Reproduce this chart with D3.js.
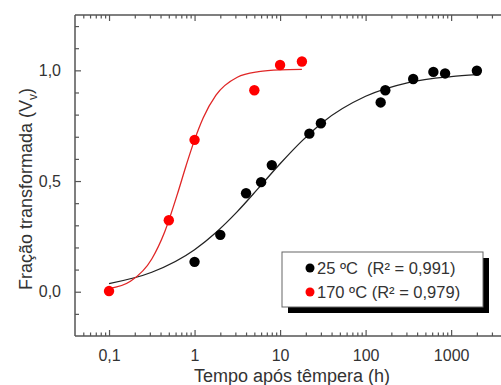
<!DOCTYPE html>
<html>
<head>
<meta charset="utf-8">
<script src="https://cdn.jsdelivr.net/npm/d3@7"></script>
<style>
	body { margin: 0; background: #fff; }
	text { font-family: "Liberation Sans", Arial, sans-serif; fill: #333; }
</style>
</head>
<body>
<svg></svg>
<script>
const SVG_WIDTH = 501;
const SVG_HEIGHT = 385;
const LEFT = 75;
const TOP = 15;
const BOTTOM = 336;
const RIGHT = 511;

// 25 ºC measured points
const time25 = [1, 2, 4, 6, 8, 22, 30, 150, 170, 360, 620, 850, 2000];
const frac25 = [0.135, 0.257, 0.445, 0.495, 0.572, 0.714, 0.761, 0.855, 0.91, 0.961, 0.993, 0.986, 0.998];
// 170 ºC measured points
const time170 = [0.1, 0.5, 1, 5, 10, 18];
const frac170 = [0.003, 0.323, 0.686, 0.91, 1.024, 1.04];

// fitted curves
const fitTime25 = [0.1, 0.316, 1, 1.78, 3.16, 5.62, 10, 17.8, 31.6, 100, 316, 1000, 2000];
const fitFrac25 = [0.037, 0.088, 0.19, 0.268, 0.362, 0.469, 0.578, 0.679, 0.766, 0.883, 0.945, 0.972, 0.981];
const fitTime170 = [0.1, 0.178, 0.316, 0.447, 0.631, 0.794, 1, 1.26, 1.78, 3.16, 5.62, 10, 18];
const fitFrac170 = [0.014, 0.047, 0.148, 0.27, 0.442, 0.568, 0.686, 0.785, 0.888, 0.969, 0.994, 1.002, 1.004];

const xTicks = [0.1, 1, 10, 100, 1000];
const xTickLabels = ["0,1", "1", "10", "100", "1000"];
const yTicks = [0, 0.5, 1];
const yTickLabels = ["0,0", "0,5", "1,0"];

const legendLabels = ["25 ºC  (R² = 0,991)", "170 ºC (R² = 0,979)"];
const legendColors = ["#000", "#f00"];

const svg = d3.select("svg")
	.attr("width", SVG_WIDTH)
	.attr("height", SVG_HEIGHT);

const xScale = d3.scaleLog().domain([0.04, 5012]).range([LEFT, RIGHT]);
const yScale = d3.scaleLinear().domain([-0.2, 1.25]).range([BOTTOM, TOP]);

// minor ticks for the log axis: 2..9 in each decade
let minorX = [];
for (let e = -2; e <= 3; e++) {
	for (let m = 2; m <= 9; m++) {
		let v = m * Math.pow(10, e);
		if (v > 0.04 && v < 5012 && xTicks.indexOf(v) < 0) minorX.push(v);
	}
}
let minorY = d3.range(-0.1, 1.25, 0.1).filter(function(v) {
	return Math.abs(v * 2 - Math.round(v * 2)) > 0.01;
});

const AXIS_COLOR = "#555";

// Frame lines
svg.append("line").attr("x1", LEFT).attr("y1", TOP).attr("x2", LEFT).attr("y2", BOTTOM)
	.attr("stroke", AXIS_COLOR).attr("stroke-width", 1.5);
svg.append("line").attr("x1", LEFT).attr("y1", BOTTOM).attr("x2", RIGHT).attr("y2", BOTTOM)
	.attr("stroke", AXIS_COLOR).attr("stroke-width", 1.5);
svg.append("line").attr("x1", LEFT).attr("y1", TOP).attr("x2", RIGHT).attr("y2", TOP)
	.attr("stroke", AXIS_COLOR).attr("stroke-width", 1.5);

// Draw axes (ticks pointing inwards)
const bottomAxis = d3.axisBottom(xScale).tickValues(xTicks)
	.tickFormat(function(d, i) { return xTickLabels[i]; })
	.tickSizeInner(-6).tickSizeOuter(0).tickPadding(14);
svg.append("g").attr("transform", "translate(0," + BOTTOM + ")").call(bottomAxis);
svg.append("g").attr("transform", "translate(0," + BOTTOM + ")")
	.call(d3.axisBottom(xScale).tickValues(minorX).tickFormat("").tickSizeInner(-3.5).tickSizeOuter(0));

svg.append("g").attr("transform", "translate(0," + TOP + ")")
	.call(d3.axisTop(xScale).tickValues(xTicks).tickFormat("").tickSizeInner(-6).tickSizeOuter(0));
svg.append("g").attr("transform", "translate(0," + TOP + ")")
	.call(d3.axisTop(xScale).tickValues(minorX).tickFormat("").tickSizeInner(-3.5).tickSizeOuter(0));

const leftAxis = d3.axisLeft(yScale).tickValues(yTicks)
	.tickFormat(function(d, i) { return yTickLabels[i]; })
	.tickSizeInner(-6).tickSizeOuter(0).tickPadding(14);
svg.append("g").attr("transform", "translate(" + LEFT + ",0)").call(leftAxis);
svg.append("g").attr("transform", "translate(" + LEFT + ",0)")
	.call(d3.axisLeft(yScale).tickValues(minorY).tickFormat("").tickSizeInner(-4).tickSizeOuter(0));

svg.selectAll(".domain").remove();
svg.selectAll(".tick line").attr("stroke", AXIS_COLOR).attr("stroke-width", 1.2);
svg.selectAll(".tick text").style("font-size", "16px").attr("fill", "#333");

// Axis titles
svg.append("text")
	.attr("x", 292).attr("y", 382)
	.attr("text-anchor", "middle")
	.style("font-size", "18px")
	.text("Tempo após têmpera (h)");

const yTitle = svg.append("text")
	.attr("transform", "translate(32,189) rotate(-90)")
	.attr("text-anchor", "middle")
	.style("font-size", "18px");
yTitle.append("tspan").text("Fração transformada (V");
yTitle.append("tspan").attr("dy", 5).style("font-size", "12px").text("v");
yTitle.append("tspan").attr("dy", -5).text(")");

// Fit curves
const line = d3.line()
	.x(function(d) { return xScale(d[0]); })
	.y(function(d) { return yScale(d[1]); })
	.curve(d3.curveMonotoneX);

svg.append("path")
	.datum(d3.zip(fitTime25, fitFrac25))
	.attr("d", line)
	.attr("fill", "none").attr("stroke", "#222").attr("stroke-width", 1.3);
svg.append("path")
	.datum(d3.zip(fitTime170, fitFrac170))
	.attr("d", line)
	.attr("fill", "none").attr("stroke", "#e02626").attr("stroke-width", 1.3);

// Data points
svg.selectAll("circle.p25")
	.data(d3.zip(time25, frac25))
	.enter()
	.append("circle")
	.attr("class", "p25")
	.attr("cx", function(d) { return xScale(d[0]); })
	.attr("cy", function(d) { return yScale(d[1]); })
	.attr("r", 5.2)
	.style("fill", "#000");
svg.selectAll("circle.p170")
	.data(d3.zip(time170, frac170))
	.enter()
	.append("circle")
	.attr("class", "p170")
	.attr("cx", function(d) { return xScale(d[0]); })
	.attr("cy", function(d) { return yScale(d[1]); })
	.attr("r", 5.2)
	.style("fill", "#f00");

// Legend with drop shadow
const legend = svg.append("g").attr("transform", "translate(282,252)");
legend.append("rect").attr("x", 6).attr("y", 6).attr("width", 201).attr("height", 55).attr("fill", "#000");
legend.append("rect").attr("x", 0).attr("y", 0).attr("width", 201).attr("height", 55)
	.attr("fill", "#fff").attr("stroke", "#666").attr("stroke-width", 1);
legendLabels.forEach(function(label, i) {
	let y = 16 + i * 24;
	legend.append("circle").attr("cx", 28).attr("cy", y).attr("r", 4.5).style("fill", legendColors[i]);
	legend.append("text").attr("x", 35).attr("y", y + 6)
		.style("font-size", "16.5px").style("white-space", "pre").attr("fill", "#222").text(label);
});
</script>
</body>
</html>
